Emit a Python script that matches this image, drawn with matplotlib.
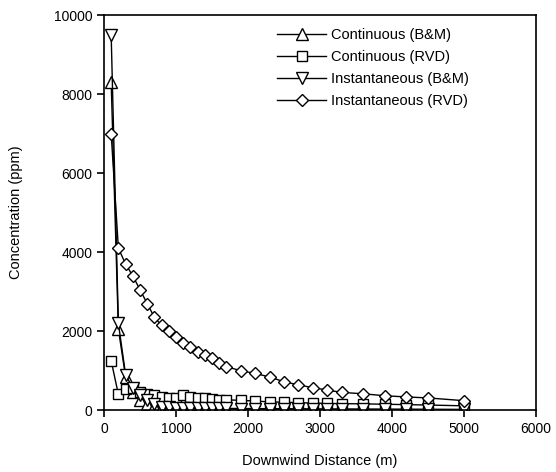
import matplotlib
matplotlib.use("Agg")
import matplotlib.pyplot as plt

plt.rcParams['font.family'] = ['Liberation Sans', 'DejaVu Sans']

distance = [100, 200, 300, 400, 500, 600, 700, 800, 900, 1000, 1100, 1200, 1300, 1400,
            1500, 1600, 1700, 1900, 2100, 2300, 2500, 2700, 2900, 3100, 3300,
            3600, 3900, 4200, 4500, 5000]

cont_bm = [8300, 2050, 850, 450, 260, 160, 100, 70, 55, 45, 40, 38, 35, 33, 30, 30, 28,
           26, 25, 24, 22, 21, 20, 20, 19, 18, 17, 16, 15, 14]
cont_rvd = [1250, 400, 530, 560, 470, 400, 380, 340, 310, 300, 380, 340, 300, 300, 280,
            270, 260, 250, 230, 210, 200, 190, 180, 170, 165, 160, 150, 140, 130, 110]
inst_bm = [9500, 2200, 900, 560, 380, 250, 150, 90, 75, 65, 60, 55, 52, 50, 48, 46, 44,
           42, 40, 38, 36, 34, 32, 30, 29, 27, 25, 23, 21, 18]
inst_rvd = [7000, 4100, 3700, 3400, 3050, 2700, 2350, 2150, 2000, 1850, 1700, 1600, 1480,
            1400, 1310, 1200, 1100, 1000, 930, 840, 720, 640, 570, 510, 450, 415, 365,
            335, 310, 240]

labels = ['Continuous (B&M)', 'Continuous (RVD)', 'Instantaneous (B&M)', 'Instantaneous (RVD)']
series = [cont_bm, cont_rvd, inst_bm, inst_rvd]
markers = ['^', 's', 'v', 'D']
msizes = [8, 7.5, 8, 6.5]

fig = plt.figure(figsize=(5.56, 4.72), dpi=100)
ax = fig.add_axes([0.187, 0.131, 0.777, 0.837])

for y, lab, m, ms in zip(series, labels, markers, msizes):
    ax.plot(distance, y, color='black', lw=1.0, marker=m, markersize=ms,
            markerfacecolor='white', markeredgecolor='black', markeredgewidth=1.0,
            label=lab)

ax.set_xlim(0, 6000)
ax.set_ylim(0, 10000)
ax.set_xticks([0, 1000, 2000, 3000, 4000, 5000, 6000])
ax.set_yticks([0, 2000, 4000, 6000, 8000, 10000])
ax.tick_params(direction='out', length=5, width=1.2, labelsize=10, colors='black')
for s in ax.spines.values():
    s.set_linewidth(1.2)
ax.set_xlabel('Downwind Distance (m)', fontsize=10.5, labelpad=13)
ax.set_ylabel('Concentration (ppm)', fontsize=10.5, labelpad=22)

leg = ax.legend(loc='upper left', frameon=False, fontsize=10.5, handlelength=3.4,
                handletextpad=0.35, labelspacing=0.55, borderaxespad=0.0,
                borderpad=0.0, bbox_to_anchor=(0.40, 0.967))

fig.savefig('out.png', dpi=100)
